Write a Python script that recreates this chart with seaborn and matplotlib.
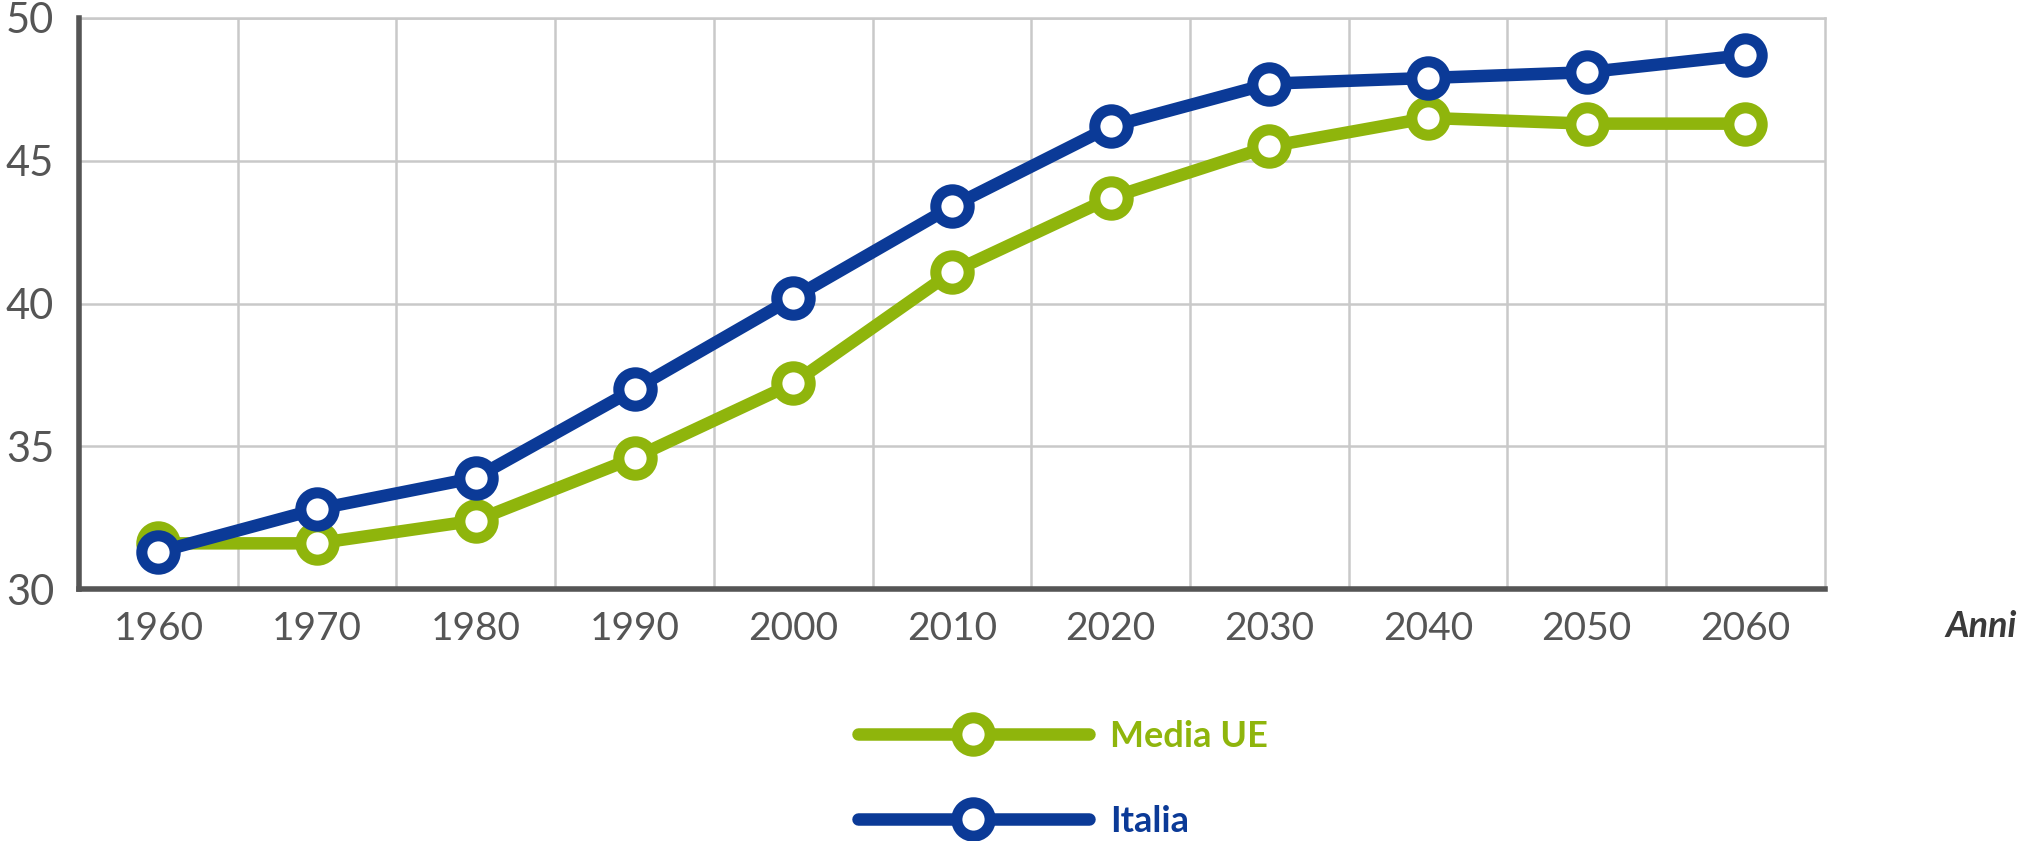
import pandas as pd
import matplotlib
matplotlib.use("Agg")
import matplotlib.pyplot as plt
import seaborn as sns

# ===============================
# DATA
# ===============================

ANNI = [1960, 1970, 1980, 1990, 2000, 2010, 2020, 2030, 2040, 2050, 2060]
MEDIA_UE = [31.6, 31.6, 32.4, 34.6, 37.2, 41.1, 43.7, 45.5, 46.5, 46.3, 46.3]
ITALIA = [31.3, 32.8, 33.9, 37.0, 40.2, 43.4, 46.2, 47.7, 47.9, 48.1, 48.7]

SERIES = ["Media UE", "Italia"]
COLORS = {"Media UE": "#8fb50c", "Italia": "#0b3a97"}

Y_TICKS = [30, 35, 40, 45, 50]

df = pd.DataFrame({
    "anno": ANNI * 2,
    "eta": MEDIA_UE + ITALIA,
    "serie": ["Media UE"] * len(ANNI) + ["Italia"] * len(ANNI),
})

# ===============================
# PLOT
# ===============================

sns.set_style("white")
plt.rcParams['font.family'] = ['Lato', 'DejaVu Sans']

fig = plt.figure(figsize=(20.44, 8.41), dpi=100)
ax = fig.add_axes([0.0387, 0.2996, 0.854, 0.679])

for name in SERIES:
    sub = df[df["serie"] == name]
    sns.lineplot(data=sub, x="anno", y="eta", ax=ax, color=COLORS[name],
                 lw=9, marker="o", markersize=24, markeredgewidth=8,
                 markerfacecolor="white", markeredgecolor=COLORS[name],
                 label=name, zorder=3)

ax.set_xlim(1955, 2065)
ax.set_ylim(30, 50)
ax.set_xticks(ANNI)
ax.set_xticks([a + 5 for a in ANNI[:-1]], minor=True)
ax.set_yticks(Y_TICKS)

ax.grid(False)
ax.grid(True, axis="x", which="minor", color="#c9c9c9", lw=1.8)
ax.grid(True, axis="y", which="major", color="#c9c9c9", lw=1.8)
ax.set_axisbelow(True)

for side in ["left", "bottom"]:
    ax.spines[side].set_color("#555555")
    ax.spines[side].set_linewidth(4)
    ax.spines[side].set_zorder(4)
for side in ["top", "right"]:
    ax.spines[side].set_color("#c9c9c9")
    ax.spines[side].set_linewidth(1.8)

ax.tick_params(axis="both", which="both", length=0)
ax.tick_params(axis="x", labelsize=28, labelcolor="#555555", pad=16)
ax.tick_params(axis="y", labelsize=30, labelcolor="#555555", pad=18)

ax.set_xlabel("")
ax.set_ylabel("")

fig.text(0.952, 0.255, "Anni", fontsize=26, fontweight="bold", style="italic",
         color="#3a3a3a", ha="left", va="center")

ax.legend_.remove()
leg = fig.legend(handles=ax.get_lines()[:2], labels=SERIES, loc="center",
                 bbox_to_anchor=(0.52, 0.074), frameon=False, ncol=1,
                 handlelength=6.4, handletextpad=0.6, labelspacing=1.45,
                 prop={"size": 26, "weight": "bold"})
for text, name in zip(leg.get_texts(), SERIES):
    text.set_color(COLORS[name])

plt.savefig("out.png", dpi=100)
